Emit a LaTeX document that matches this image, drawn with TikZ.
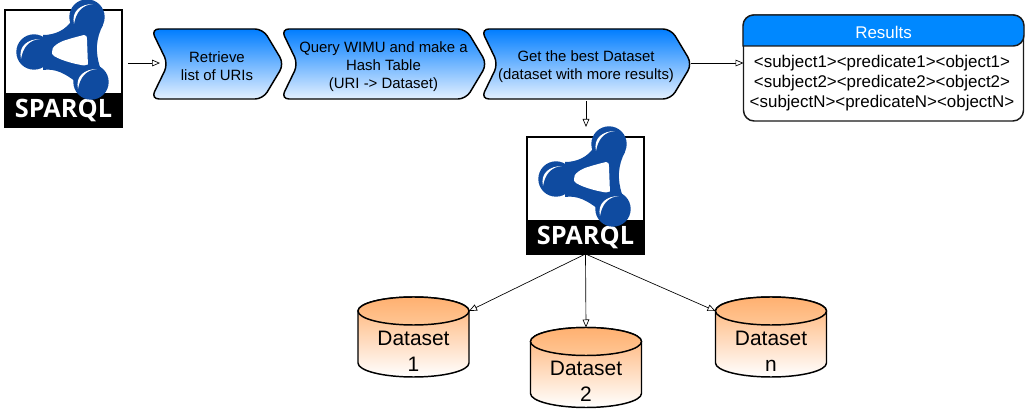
\documentclass[tikz,border=0pt]{standalone}
\usepackage{fontspec}
\setmainfont{Liberation Sans}
\newfontfamily\logofont{Open Sans}
\usepackage{xcolor}
\usepackage{tikz}
\usetikzlibrary{shapes.geometric, arrows.meta, positioning, calc}

\definecolor{chevtop}{RGB}{0,125,255}
\definecolor{chevbot}{RGB}{228,240,255}
\definecolor{headblue}{RGB}{0,136,255}
\definecolor{logoblue}{RGB}{15,75,160}
\definecolor{dstop}{RGB}{255,176,112}
\definecolor{dsmid}{RGB}{255,198,148}
\def\px{0.75pt}

% logo: node name, then shift
\newcommand{\sparqllogo}[2]{%
\begin{scope}[shift={(#2)}]
\node[logobox] (#1) at (63.5,68.5) {};
\fill[black] (5,93) rectangle (122,127);
\node[logotext] (#1text) at (63.5,110.5) {SPARQL};
\fill[logoblue] (43,35) .. controls (55,35) and (66,30) .. (72,20) -- (103,25) .. controls (96,38) and (95,52) .. (100,67) -- (76,82) .. controls (66,74) and (55,68) .. (43,70) -- cycle;
\fill[white] (52,52) .. controls (51,47) and (59,42) .. (66,40) .. controls (72,38) and (80,36) .. (84,35) .. controls (86,35) and (87,36) .. (87,40) -- (88,66) .. controls (78,65) and (62,61) .. (54,56) .. controls (52,55) and (52,53) .. (52,52) -- cycle;
\foreach \cx/\cy in {87/17, 34/52, 91/82} {
  \fill[logoblue] (\cx,\cy) circle [radius=17.7*\px];
  \fill[white] (\cx-13,\cy+7) .. controls (\cx-16,\cy-6) and (\cx-6,\cy-13) .. (\cx+6,\cy-13) .. controls (\cx-5,\cy-12) and (\cx-11,\cy-5) .. (\cx-13,\cy+7);
}
\end{scope}}

% chevron: node name, left, right, tip depth, text
\newcommand{\chevronbox}[5]{%
\path[chevline] (#2-2,29) -- (#3-#4,29) -- (#3+3,64) -- (#3-#4,99) -- (#2-2,99) -- (#2+15,64) -- cycle;
\node[chevtext, minimum width={(#3-#2)*\px}] (#1) at ({(#2+#3)/2},66.5) {#5};}

% dataset drum: node name, centre x, top y, text
\newcommand{\datasetdb}[4]{%
\path[dsbody] (#2-55.5,#3+14) -- (#2-55.5,#3+66) arc [start angle=180, end angle=360, x radius=55.5*\px, y radius=14*\px] -- (#2+55.5,#3+14) arc [start angle=0, end angle=180, x radius=55.5*\px, y radius=14*\px] -- cycle;
\draw[dstopend] (#2,#3+14) ellipse [x radius=55.5*\px, y radius=14*\px];
\node[dsframe] (#1) at (#2,#3+40) {};
\node[dstext] (#1text) at (#2,#3+54) {#4};}

\begin{document}
\begin{tikzpicture}[
    x=0.75pt, y=-0.75pt,
    logobox/.style={rectangle, draw=black, fill=white, line width=1pt, inner sep=0pt, outer sep=0pt, minimum width=117*\px, minimum height=117*\px},
    logotext/.style={text=white, inner sep=0pt, font=\fontsize{19}{20}\logofont\bfseries},
    chevline/.style={draw=black, line width=1.1pt, rounded corners=6pt, top color=chevtop, bottom color=chevbot},
    chevtext/.style={inner sep=0pt, outer sep=0pt, minimum height=70*\px, align=center, font=\fontsize{11.2}{13.5}\selectfont},
    resultbox/.style={rectangle, draw=black!90, fill=white, line width=1.1pt, rounded corners=8pt, inner sep=0pt, outer sep=0pt, minimum width=280*\px, minimum height=106*\px},
    headline/.style={draw=black!90, fill=headblue, line width=1.1pt, rounded corners=8pt},
    headtext/.style={text=white, inner sep=0pt, font=\fontsize{12.7}{15}\selectfont},
    bodytext/.style={inner sep=0pt, align=center, font=\fontsize{12.7}{15}\selectfont},
    dsbody/.style={draw=black, line width=1.1pt, top color=dstop, bottom color=white},
    dstopend/.style={draw=black, line width=1.1pt, top color=dstop, bottom color=dsmid},
    dsframe/.style={rectangle, inner sep=0pt, outer sep=0pt, minimum width=111*\px, minimum height=80*\px},
    dstext/.style={inner sep=0pt, align=center, font=\fontsize{15.7}{19.5}\selectfont},
    arrow/.style={-{Triangle[fill=white, length=6pt, width=5pt]}, line width=0.5pt},
]
\useasboundingbox (0,0) rectangle (1025,409);

\sparqllogo{logoa}{0,0}
\sparqllogo{logob}{522,127}
\coordinate (logobin) at (586,127);

\chevronbox{chevbest}{483}{689}{18}{Get the best Dataset\\(dataset with more results)}
\chevronbox{chevwimu}{283}{484}{18}{Query WIMU and make a\\Hash Table\\(URI -> Dataset)}
\chevronbox{chevuris}{153}{281}{18}{Retrieve\\list of URIs}

\node[resultbox] (results) at (883.5,68) {};
\draw[headline] (743,46) -- (743,15) -- (1024,15) -- (1024,46) [sharp corners] -- cycle;
\node[headtext] (resultshead) at (883.5,32) {Results};
\node[bodytext] (resultstext) at (882,83) {<subject1><predicate1><object1>\\<subject2><predicate2><object2>\\<subjectN><predicateN><objectN>};

\datasetdb{dsa}{413.5}{297}{Dataset\\1}
\datasetdb{dsb}{586}{327.5}{Dataset\\2}
\datasetdb{dsn}{771}{297}{Dataset\\n}

\draw[arrow, shorten <=6*\px, shorten >=-7*\px] ([yshift=2.6pt]chevuris.west -| logoa.east) -- ([yshift=2.6pt]chevuris.west);
\draw[arrow, shorten <=2*\px] ([yshift=2.6pt]chevbest.east) -- ([yshift=2.6pt]chevbest.east -| results.west);
\draw[arrow] (chevbest.south) -- (logobin);
\draw[arrow] (logob.south) -- ([yshift=-10.5pt]dsa.north east);
\draw[arrow] (logob.south) -- (dsb.north);
\draw[arrow] (logob.south) -- ([yshift=-10.5pt]dsn.north west);
\end{tikzpicture}
\end{document}
